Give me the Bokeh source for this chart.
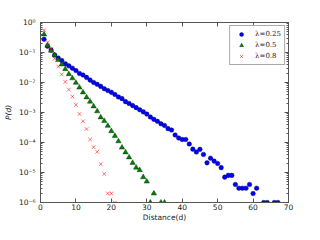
from bokeh.plotting import figure
from bokeh.models import (LogAxis, LinearAxis, CustomJSTickFormatter, FixedTicker,
                          Range1d, Legend, LegendItem)
from bokeh.embed import file_html
from bokeh.resources import INLINE

# lambda = 0.25
d_025 = list(range(1, 62)) + [63, 64, 66, 67]
p_025 = [0.275, 0.162, 0.120, 0.083, 0.065, 0.054, 0.042, 0.036, 0.030, 0.025,
         0.020, 0.0178, 0.0148, 0.0120, 0.0100, 0.0087, 0.0074, 0.0062, 0.0054, 0.0047,
         0.0040, 0.0033, 0.0029, 0.0023, 0.0020, 0.0017, 0.00145, 0.00123, 0.00105, 0.00089,
         0.00071, 0.00059, 0.00051, 0.00042, 0.00037, 0.00029, 0.00026, 0.000178, 0.000141, 0.000126,
         0.000126, 8.9e-5, 6.0e-5, 4.8e-5, 5.9e-5, 4.0e-5, 2.1e-5, 3.0e-5, 2.4e-5, 2.0e-5,
         1.45e-5, 7e-6, 8e-6, 8e-6, 4e-6, 3e-6, 3e-6, 3e-6, 4e-6, 2e-6,
         3e-6,
         1e-6, 1e-6, 1e-6, 1e-6]

# lambda = 0.5
d_05 = list(range(1, 33)) + [34, 35]
p_05 = [0.40, 0.17, 0.115, 0.081, 0.056, 0.040, 0.028, 0.019, 0.0138, 0.0098,
        0.0068, 0.0047, 0.0032, 0.0023, 0.0016, 0.0011, 0.00069, 0.00052, 0.00036, 0.00024,
        0.000166, 0.00011, 6.8e-5, 4.7e-5, 3.2e-5, 2.1e-5, 1.45e-5, 1.2e-5, 7e-6, 5e-6,
        1e-6, 2e-6, 1e-6, 1e-6]

# lambda = 0.8
d_08 = list(range(1, 22))
p_08 = [0.55, 0.22, 0.13, 0.062, 0.034, 0.0186, 0.0105, 0.0058, 0.0034, 0.0018,
        0.00089, 0.00051, 0.00028, 0.000126, 7e-5, 4.9e-5, 1.9e-5, 9e-6, 2e-6, 2e-6,
        1e-6]

x_ticks = [0, 10, 20, 30, 40, 50, 60, 70]
y_exps = [0, -1, -2, -3, -4, -5, -6]

labels = ["\u03bb=0.25", "\u03bb=0.5", "\u03bb=0.8"]

FRAME = "#555555"
FONT = "DejaVu Sans"
FS = "7.5px"

p = figure(width=304, height=224, output_backend="svg", toolbar_location=None,
           y_axis_type="log", x_range=Range1d(0, 70), y_range=Range1d(1e-6, 1),
           min_border_left=39, min_border_right=16, min_border_top=22, min_border_bottom=0)
p.grid.visible = False
p.outline_line_color = FRAME
p.background_fill_color = "white"

y_major = [10.0 ** e for e in y_exps]
y_minor = [k * 10.0 ** e for e in range(-6, 0) for k in range(2, 10)]
yticker = FixedTicker(ticks=y_major, minor_ticks=y_minor)
xticker = FixedTicker(ticks=x_ticks)

fmt = CustomJSTickFormatter(code="""
const e = Math.round(Math.log10(tick));
const sup = {"-":"\u207b","0":"\u2070","1":"\u00b9","2":"\u00b2","3":"\u00b3","4":"\u2074",
             "5":"\u2075","6":"\u2076","7":"\u2077","8":"\u2078","9":"\u2079"};
return "10" + String(e).split("").map(c => sup[c]).join("");
""")
blank = CustomJSTickFormatter(code="return '';")

def style(ax):
    ax.axis_line_color = FRAME
    ax.major_tick_line_color = FRAME
    ax.minor_tick_line_color = FRAME
    ax.major_tick_in = 4
    ax.major_tick_out = 0
    ax.minor_tick_in = 2
    ax.minor_tick_out = 0
    ax.major_label_text_font = FONT
    ax.major_label_text_font_size = FS
    ax.major_label_text_color = "#222222"
    ax.axis_label_text_font = FONT
    ax.axis_label_text_font_size = FS
    ax.axis_label_text_font_style = "normal"
    ax.axis_label_text_color = "#222222"

xa = p.xaxis[0]
style(xa)
xa.ticker = xticker
xa.minor_tick_line_color = None
xa.major_label_standoff = 1
xa.axis_label = "Distance(d)"
xa.axis_label_standoff = 0

ya = p.yaxis[0]
style(ya)
ya.ticker = yticker
ya.formatter = fmt
ya.major_label_standoff = 5
ya.axis_label = "P(d)"
ya.axis_label_text_font_style = "italic"
ya.axis_label_standoff = 3

top = LinearAxis(ticker=xticker, formatter=blank)
style(top)
top.minor_tick_line_color = None
top.major_label_text_color = None
top.major_label_text_font_size = "1px"
top.major_label_standoff = 0
p.add_layout(top, "above")

right = LogAxis(ticker=yticker, formatter=blank)
style(right)
right.major_label_text_color = None
right.major_label_text_font_size = "1px"
right.major_label_standoff = 0
p.add_layout(right, "right")

r1 = p.scatter(d_025, p_025, marker="circle", size=4.6, fill_color="#0000ff",
               line_color="#000044", line_width=0.4)
r2 = p.scatter(d_05, p_05, marker="triangle", size=5.4, fill_color="#008000",
               line_color="#002200", line_width=0.4)
r3 = p.scatter(d_08, p_08, marker="x", size=5.2, line_color="#ff0000",
               line_alpha=0.55, line_width=1)

legend = Legend(items=[LegendItem(label=labels[0], renderers=[r1]),
                       LegendItem(label=labels[1], renderers=[r2]),
                       LegendItem(label=labels[2], renderers=[r3])],
                location="top_right")
legend.margin = 3
legend.padding = 3
legend.spacing = 1
legend.glyph_width = 16
legend.glyph_height = 10
legend.label_height = 10
legend.label_standoff = 6
legend.label_text_font = "DejaVu Serif"
legend.label_text_font_size = "7px"
legend.label_text_color = "#222222"
legend.border_line_color = FRAME
legend.border_line_width = 1
legend.background_fill_alpha = 1
p.add_layout(legend, "center")

open("out.html", "w", encoding="utf-8").write(file_html(p, INLINE))
